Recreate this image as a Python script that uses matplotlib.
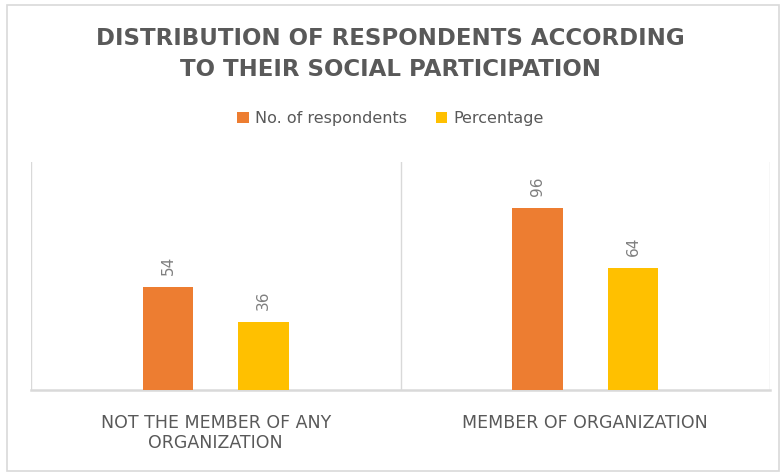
import matplotlib.pyplot as plt
from matplotlib.patches import Rectangle
import numpy as np

categories = ["NOT THE MEMBER OF ANY\nORGANIZATION", "MEMBER OF ORGANIZATION"]
series_names = ["No. of respondents", "Percentage"]
respondents = [54, 96]
percentage = [36, 64]
colors = ["#ED7D31", "#FFC000"]

W, H = 781, 473
fig = plt.figure(figsize=(W / 100, H / 100), dpi=100)
fig.patch.set_facecolor("white")

# outer chart border
fig.add_artist(Rectangle((7 / W, 1 - 5 / H), (W - 9) / W, -(H - 7) / H,
                         transform=fig.transFigure, fill=False,
                         edgecolor="#d9d9d9", linewidth=1.2))

left, right, top, bottom = 31, 770, 162, 390
ax = fig.add_axes([left / W, 1 - bottom / H, (right - left) / W, (bottom - top) / H])

x = np.arange(len(categories))
width = 0.136
offset = 0.129
for i, (vals, name) in enumerate(zip([respondents, percentage], series_names)):
    pos = x + (offset if i else -offset)
    ax.bar(pos, vals, width, color=colors[i], label=name, zorder=3)
    for p, v in zip(pos, vals):
        ax.text(p, v + 6.3, str(v), rotation=90, ha="center", va="bottom",
                fontsize=11, color="#7f7f7f")

ax.set_xlim(-0.5, len(categories) - 0.5)
ax.set_ylim(0, 120)
for b in np.arange(-0.5, len(categories), 1):
    ax.axvline(b, color="#d9d9d9", linewidth=1, zorder=1)

for s in ["top", "left", "right"]:
    ax.spines[s].set_visible(False)
ax.spines["bottom"].set_color("#d9d9d9")
ax.spines["bottom"].set_linewidth(1.8)
ax.set_yticks([])
ax.set_xticks(x)
ax.set_xticklabels(categories, fontsize=12.5, color="#595959", linespacing=1.2)
ax.tick_params(axis="x", length=0, pad=17)

fig.text(0.5, 1 - 54 / H, "DISTRIBUTION OF RESPONDENTS ACCORDING\nTO THEIR SOCIAL PARTICIPATION",
         ha="center", va="center", fontsize=16.5, fontweight="bold", color="#595959",
         linespacing=1.4)

leg = fig.legend(loc="center", bbox_to_anchor=(0.5, 1 - 119 / H), ncol=2, frameon=False,
                 fontsize=11.5, handlelength=0.7, handleheight=0.7, handletextpad=0.4,
                 columnspacing=1.8, labelcolor="#595959")

fig.savefig("out.png", dpi=100)
